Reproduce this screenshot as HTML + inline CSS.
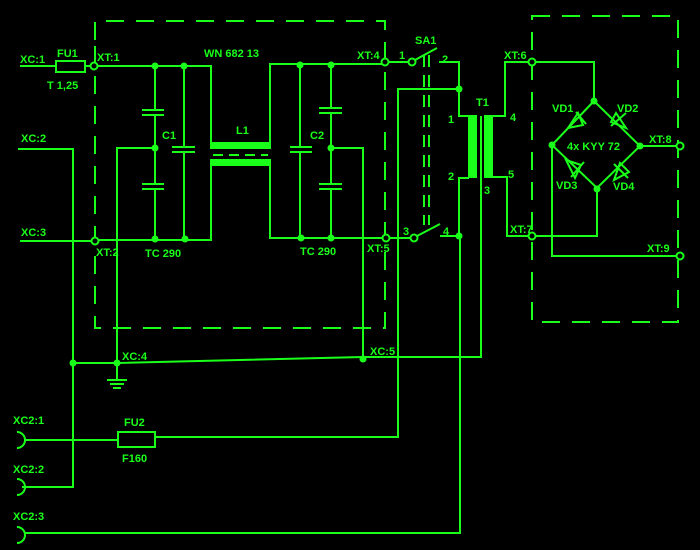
<!DOCTYPE html>
<html><head><meta charset="utf-8"><style>
html,body{margin:0;padding:0;background:#000;}
svg{display:block}
text{font-family:"Liberation Sans",sans-serif;font-weight:bold;fill:#1aff1a;font-size:11px}
</style></head><body>
<svg width="700" height="550" viewBox="0 0 700 550" xmlns="http://www.w3.org/2000/svg">
<rect width="700" height="550" fill="#000"/>
<g stroke="#1aff1a" stroke-width="2" fill="none">
<!-- dashed boxes -->
<path d="M95,40 V21 H385 V328 H95 Z" stroke-dasharray="18,12"/>
<path d="M532,16 H678 V322 H532 Z" stroke-dasharray="18,12"/>
<path d="M424,55 V225 M429,55 V225" stroke-dasharray="12,8"/>
<!-- input lines -->
<path d="M20,66 H56 M85,66 H91 M97,66 H211 V143"/>
<rect x="56" y="61" width="29" height="11"/>
<path d="M18,149 H73 V487 H22"/>
<path d="M20,241 H92 M98,240 H211 V165"/>
<path d="M117,380 V148 H155"/>
<!-- C1 -->
<path d="M155,66 V110 M142,110 H164 M142,115 H164 M155,115 V184 M142,184 H164 M142,189 H164 M155,189 V240"/>
<path d="M184,66 V147 M172,147 H195 M172,152 H195 M184,152 V240"/>
<!-- L1 -->
<rect x="211" y="143" width="59" height="5" fill="#1aff1a"/>
<rect x="211" y="160" width="59" height="5" fill="#1aff1a"/>
<path d="M213,155 H268" stroke-dasharray="10,6"/>
<path d="M270,143 V64 H382 M270,165 V238 H383"/>
<!-- C2 -->
<path d="M300,64 V147 M290,147 H312 M290,152 H312 M300,152 V238"/>
<path d="M331,64 V108 M319,108 H342 M319,113 H342 M331,113 V184 M319,184 H342 M319,189 H342 M331,189 V238"/>
<path d="M331,148 H363 V359"/>
<!-- switch SA1 -->
<path d="M388,62 H409 M415,60 L437,48 M439,62 H459 V116 H469 M459,89 H398 V437 H155"/>
<path d="M389,238 H411 M417,236 L440,224 M440,236 H459 M459,236 V178 H469 M460,236 V533 H24"/>
<!-- transformer -->
<rect x="469" y="116" width="7" height="61" fill="#1aff1a"/>
<rect x="485" y="116" width="7" height="61" fill="#1aff1a"/>
<path d="M481,116 V357 H363 L117,363 H73"/>
<path d="M492,116 H505 V62 H529 M535,62 H594 V101"/>
<path d="M492,177 H507 V236 H529 M535,236 H597 V188"/>
<!-- bridge -->
<path d="M594,101 L552,145 L597,188 L640,146 Z"/>
<path d="M640,146 H677 M552,145 V256 H677"/>
<!-- fuse 2 -->
<rect x="118" y="432" width="37" height="15"/>
<path d="M25,440 H118"/>
<path d="M107,380 H127 M110,384 H124 M113,388 H121"/>
<!-- connectors -->
<path d="M17,432 A8,8 0 0 1 17,448 M17,479 A8,8 0 0 1 17,495 M17,527 A8,8 0 0 1 17,543"/>
<!-- diodes -->
<path d="M568,128 L578,113 L583,125 Z M576,112 L586,124"/>
<path d="M616,113 L626,128 L611,122 Z M611,126 L626,113"/>
<path d="M566,160 L581,165 L575,178 Z M571,177 L584,162"/>
<path d="M614,180 L620,163 L629,172 Z M614,164 L628,178"/>
</g>
<g stroke="#1aff1a" stroke-width="2" fill="#000">
<circle cx="94" cy="66" r="3.5"/><circle cx="95" cy="241" r="3.5"/>
<circle cx="385" cy="62" r="3.5"/><circle cx="412" cy="62" r="3.5"/>
<circle cx="386" cy="238" r="3.5"/><circle cx="414" cy="238" r="3.5"/>
<circle cx="532" cy="62" r="3.5"/><circle cx="532" cy="236" r="3.5"/>
<circle cx="680" cy="146" r="3.5"/><circle cx="680" cy="256" r="3.5"/>
</g>
<g fill="#1aff1a">
<circle cx="155" cy="66" r="3.5"/><circle cx="184" cy="66" r="3.5"/>
<circle cx="155" cy="148" r="3.5"/><circle cx="155" cy="239" r="3.5"/><circle cx="185" cy="239" r="3.5"/>
<circle cx="300" cy="65" r="3.5"/><circle cx="331" cy="65" r="3.5"/>
<circle cx="331" cy="148" r="3.5"/><circle cx="301" cy="238" r="3.5"/><circle cx="331" cy="238" r="3.5"/>
<circle cx="459" cy="89" r="3.5"/><circle cx="459" cy="236" r="3.5"/>
<circle cx="73" cy="363" r="3.5"/><circle cx="117" cy="363" r="3.5"/><circle cx="363" cy="359" r="3.5"/>
<circle cx="594" cy="101" r="3.5"/><circle cx="552" cy="145" r="3.5"/><circle cx="640" cy="146" r="3.5"/><circle cx="597" cy="189" r="3.5"/>
</g>
<text x="20" y="63">XC:1</text><text x="57" y="57">FU1</text><text x="47" y="89">T 1,25</text>
<text x="97" y="61">XT:1</text><text x="204" y="57" font-size="10">WN 682 13</text>
<text x="21" y="142">XC:2</text><text x="21" y="236">XC:3</text><text x="96" y="256">XT:2</text>
<text x="162" y="139">C1</text><text x="236" y="134">L1</text><text x="310" y="139">C2</text>
<text x="145" y="257">TC 290</text><text x="300" y="255">TC 290</text>
<text x="357" y="59">XT:4</text><text x="367" y="252">XT:5</text>
<text x="415" y="44">SA1</text><text x="399" y="59">1</text><text x="442" y="63">2</text>
<text x="403" y="235">3</text><text x="443" y="235">4</text>
<text x="476" y="106">T1</text><text x="448" y="123">1</text><text x="448" y="180">2</text>
<text x="510" y="121">4</text><text x="508" y="178">5</text><text x="484" y="194">3</text>
<text x="504" y="59">XT:6</text><text x="510" y="233">XT:7</text>
<text x="649" y="143">XT:8</text><text x="647" y="252">XT:9</text>
<text x="552" y="112">VD1</text><text x="617" y="112">VD2</text>
<text x="556" y="189">VD3</text><text x="613" y="190">VD4</text>
<text x="567" y="150" font-size="10">4x KYY 72</text>
<text x="122" y="360">XC:4</text><text x="370" y="355">XC:5</text>
<text x="124" y="426" font-size="13">FU2</text><text x="122" y="462">F160</text>
<text x="13" y="424">XC2:1</text><text x="13" y="473">XC2:2</text><text x="13" y="520">XC2:3</text>
</svg>
</body></html>
